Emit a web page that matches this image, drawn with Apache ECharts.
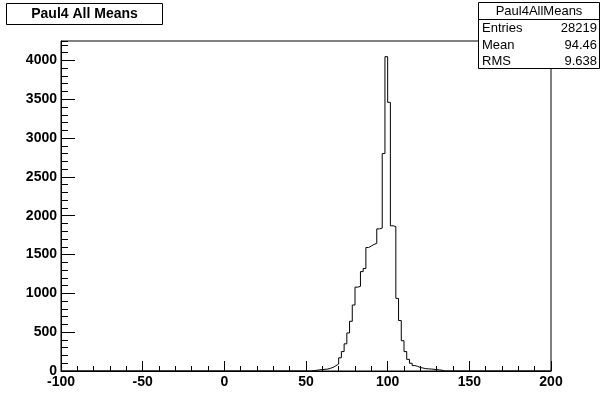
<!DOCTYPE html>
<html><head><meta charset="utf-8">
<script src="https://cdn.jsdelivr.net/npm/echarts@6/dist/echarts.min.js"></script>
<style>html,body{margin:0;padding:0;background:#fff}#c{width:612px;height:412px}</style>
</head><body><div id="c"></div>
<script>
// ---- data ----
const histTitle = 'Paul4 All Means';
const statsName = 'Paul4AllMeans';
const statsLabels = ['Entries', 'Mean', 'RMS'];
const statsValues = ['28219', '94.46', '9.638'];
const xMin = -100, xMax = 200;
const binWidth = 5 / 3;          // 180 bins over [-100, 200]
const firstBinLow = 50;          // lower edge of first listed bin
const binCounts = [
  0, 0, 5, 10, 15, 18, 22, 25, 35, 47,
  68, 90, 170, 250, 350, 490, 640, 850, 1080, 1090,
  1280, 1320, 1590, 1610, 1630, 1645, 1830, 1840, 2800, 4048,
  3460, 1870, 1860, 935, 650, 390, 250, 150, 100, 70,
  60, 45, 38, 30, 28, 25, 22, 18, 14, 10,
  0
];
const yMax = 4250;
const xTickStep = 50, xMinorStep = 10;
const yTickStep = 500, yMinorStep = 100;

// ---- build step outline ----
const pts = [[xMin, 0]];
for (let i = 0; i < binCounts.length; i++) {
  pts.push([firstBinLow + i * binWidth, binCounts[i]]);
}
pts.push([firstBinLow + binCounts.length * binWidth, 0]);
pts.push([xMax, 0]);

const FONT = 'Liberation Sans, Arial, Helvetica, sans-serif';
const chart = echarts.init(document.getElementById('c'), null, {renderer: 'canvas'});
const labelStyle = {color: '#000', fontFamily: FONT, fontWeight: 'bold', fontSize: 14, formatter: v => String(v)};

const statsGraphic = [
  {type: 'rect', shape: {x: 478.5, y: 2.5, width: 121, height: 66}, style: {fill: '#fff', stroke: '#000', lineWidth: 1}},
  {type: 'line', shape: {x1: 478.5, y1: 19.5, x2: 599.5, y2: 19.5}, style: {stroke: '#000', lineWidth: 1}},
  {type: 'text', x: 539, y: 11, style: {text: statsName, font: '13px ' + FONT, fill: '#000', textAlign: 'center', textVerticalAlign: 'middle'}}
];
const rowY = [28, 45, 61.5];
for (let i = 0; i < statsLabels.length; i++) {
  statsGraphic.push({type: 'text', x: 482, y: rowY[i], style: {text: statsLabels[i], font: '13px ' + FONT, fill: '#000', textAlign: 'left', textVerticalAlign: 'middle'}});
  statsGraphic.push({type: 'text', x: 597, y: rowY[i], style: {text: statsValues[i], font: '13px ' + FONT, fill: '#000', textAlign: 'right', textVerticalAlign: 'middle'}});
}

chart.setOption({
  animation: false,
  backgroundColor: '#fff',
  grid: {left: 61, right: 61, top: 41, bottom: 41, show: true, borderColor: '#000', borderWidth: 1, backgroundColor: 'transparent'},
  xAxis: [{
    type: 'value', min: xMin, max: xMax, interval: xTickStep,
    axisLine: {show: true, onZero: false, lineStyle: {color: '#000', width: 1}},
    axisTick: {show: true, inside: true, length: 10, lineStyle: {color: '#000', width: 1}},
    minorTick: {show: true, splitNumber: xTickStep / xMinorStep, length: 5, lineStyle: {color: '#000', width: 1}},
    splitLine: {show: false},
    axisLabel: Object.assign({margin: 4}, labelStyle)
  }],
  yAxis: [{
    type: 'value', min: 0, max: yMax, interval: yTickStep, position: 'left', offset: 0,
    axisLine: {show: true, onZero: false, lineStyle: {color: '#000', width: 1}},
    axisTick: {show: true, inside: true, length: 14, lineStyle: {color: '#000', width: 1}},
    splitLine: {show: false},
    axisLabel: Object.assign({margin: 4, showMaxLabel: false}, labelStyle)
  }, {
    type: 'value', min: 0, max: yMax, interval: yMinorStep, position: 'left', offset: 0,
    axisLine: {show: false, onZero: false},
    axisTick: {show: true, inside: true, length: 7, lineStyle: {color: '#000', width: 1}},
    splitLine: {show: false},
    axisLabel: {show: false}
  }],
  series: [{
    type: 'line', step: 'end', data: pts, symbol: 'none', xAxisIndex: 0, yAxisIndex: 0,
    lineStyle: {color: '#000', width: 1}, silent: true
  }],
  graphic: [
    {type: 'rect', shape: {x: 6.5, y: 3.5, width: 156, height: 21}, style: {fill: '#fff', stroke: '#000', lineWidth: 1}},
    {type: 'text', x: 84.5, y: 14, style: {text: histTitle, font: 'bold 14px ' + FONT, fill: '#000', textAlign: 'center', textVerticalAlign: 'middle'}}
  ].concat(statsGraphic)
});
</script>
</body></html>
